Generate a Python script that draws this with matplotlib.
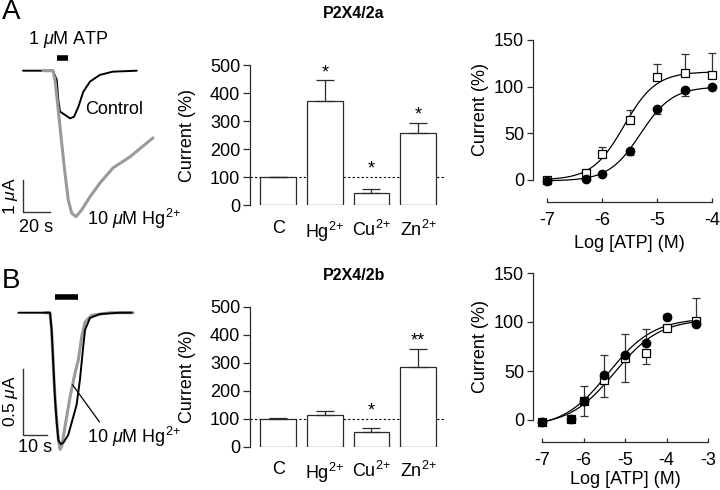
import numpy as np
import matplotlib
matplotlib.use("Agg")
import matplotlib.pyplot as plt

plt.rcParams['font.family'] = ['Liberation Sans', 'DejaVu Sans']
plt.rcParams['mathtext.fontset'] = 'custom'
plt.rcParams['mathtext.rm'] = 'Liberation Sans'
plt.rcParams['mathtext.it'] = 'Liberation Sans:italic'
plt.rcParams['mathtext.bf'] = 'Liberation Sans:bold'

# ---------------- data ----------------
# Panel A traces (time s, current uA)
tA_ctrl = [0, 21.9, 24.7, 25.8, 27.1, 30.7, 34.4, 37.3, 40.5, 44.1, 49.0, 56.3, 65.8, 83.2]
iA_ctrl = [0, 0, -0.29, -0.92, -1.28, -1.38, -1.49, -1.44, -1.13, -0.66, -0.34, -0.13, -0.03, 0.0]
tA_hg = [14.6, 21.9, 23.4, 25.8, 28.3, 30.7, 33.1, 35.6, 38.8, 42.9, 49.0, 56.3, 65.8, 78.3, 95.1]
iA_hg = [0, 0, -0.29, -1.23, -2.26, -3.20, -4.04, -4.45, -4.56, -4.35, -3.94, -3.51, -3.04, -2.69, -2.10]
atpA = [24.7, 33.1]

# Panel B traces
tB_ctrl = [-2.1, 11.4, 12.1, 12.8, 13.5, 14.3, 15.0, 16.0, 17.1, 19.2, 21.4, 22.8, 24.2, 25.6, 26.4, 28.5, 32.8, 41.3, 46.3]
iB_ctrl = [0, 0, -0.13, -0.38, -0.64, -0.84, -0.97, -1.00, -0.99, -0.93, -0.79, -0.70, -0.51, -0.26, -0.13, -0.04, -0.01, 0, 0]
tB_hg = [9.0, 11.4, 12.1, 13.1, 14.0, 15.0, 15.7, 16.4, 17.8, 20.0, 22.1, 23.5, 25.0, 26.4, 29.2, 37.1, 47.0]
iB_hg = [0, 0, -0.13, -0.51, -0.76, -0.97, -1.04, -1.02, -0.87, -0.64, -0.46, -0.36, -0.18, -0.07, -0.02, 0, 0]
atpB = [13.5, 23.5]

# Bar charts
bar_cats = ['C', 'Hg$^{2{+}}$', 'Cu$^{2{+}}$', 'Zn$^{2{+}}$']
barA_vals = [100, 370, 44, 257]
barA_err = [1, 75, 12, 36]
barA_stars = ['', '*', '*', '*']
barB_vals = [100, 114, 51, 286]
barB_err = [3, 12, 16, 64]
barB_stars = ['', '', '*', '**']

# Dose-response A
doseA_x = [-7, -6.3, -6, -5.5, -5, -4.5, -4]
doseA_sq = [0, 7, 28, 64, 110, 115, 112]
doseA_sq_up = [0, 0, 7, 11, 14, 20, 24]
doseA_ci = [-1, 1, 6, 31, 76, 96, 100]
doseA_ci_dn = [0, 0, 0, 4, 5, 6, 0]
# Hill fit params: bottom, top, logEC50, n
fitA_sq = (0, 116, -5.6, 1.5)
fitA_ci = (-1, 100, -5.3, 1.5)

# Dose-response B
doseB_x = [-7, -6.3, -6, -5.5, -5, -4.5, -4, -3.3]
doseB_sq = [-2, 1, 19, 41, 63, 68, 94, 101]
doseB_sq_up = [0, 0, 0, 0, 0, 0, 0, 23]
doseB_sq_dn = [0, 0, 15, 18, 24, 11, 0, 0]
doseB_ci = [-2, 1, 19, 46, 66, 79, 105, 98]
doseB_ci_up = [0, 0, 16, 20, 22, 14, 3, 0]
fitB_sq = (-6, 103, -5.25, 0.8)
fitB_ci = (-8, 104, -5.4, 0.8)

# ---------------- layout helpers ----------------
W, H = 720, 490
fig = plt.figure(figsize=(W / 100, H / 100), dpi=100)

def box(x0, y0, x1, y1):
    return [x0 / W, 1 - y1 / H, (x1 - x0) / W, (y1 - y0) / H]

def ftext(x, y, s, **kw):
    fig.text(x / W, 1 - y / H, s, **kw)

FS = 13
GRAY = '#9a9a9a'

# ---------------- traces ----------------
def trace_axes(px_box, x0px, y0px, pps, ppu):
    ax = fig.add_axes(box(*px_box))
    xa, ya, xb, yb = px_box
    ax.set_xlim((xa - x0px) / pps, (xb - x0px) / pps)
    ax.set_ylim(-(yb - y0px) / ppu, -(ya - y0px) / ppu)
    ax.axis('off')
    return ax

axTA = trace_axes((0, 30, 180, 240), 23, 70.7, 1.367, 32.0)
axTA.plot(tA_ctrl, iA_ctrl, color='black', lw=1.4, solid_capstyle='round')
axTA.plot(tA_hg, iA_hg, color=GRAY, lw=2.2, solid_capstyle='round')
axTA.plot(atpA, [0.39, 0.39], color='black', lw=4, solid_capstyle='butt')
axTA.plot([0, 0, 20], [-3.42, -4.42, -4.42], color='#333333', lw=1.0)

axTB = trace_axes((0, 285, 180, 470), 23.3, 312.7, 2.34, 131.4)
axTB.plot(tB_hg, iB_hg, color=GRAY, lw=2.2, solid_capstyle='round')
axTB.plot(tB_ctrl, iB_ctrl, color='black', lw=1.4, solid_capstyle='round')
axTB.plot(atpB, [0.12, 0.12], color='black', lw=4, solid_capstyle='butt')
axTB.plot([0, 0, 10], [-0.43, -0.93, -0.93], color='#333333', lw=1.0)
axTB.plot([21.1, 32.5], [-0.55, -0.83], color='black', lw=0.9)

ftext(11, 12, 'A', fontsize=20, ha='center', va='center')
ftext(11, 281, 'B', fontsize=20, ha='center', va='center')
ftext(28, 40, '1 $\\mu$M ATP', fontsize=FS, ha='left', va='center')
ftext(85, 109, 'Control', fontsize=FS, ha='left', va='center')
ftext(87, 219, '10 $\\mu$M Hg$^{2{+}}$', fontsize=FS, ha='left', va='center')
ftext(10, 196, '1 $\\mu$A', fontsize=12.5, ha='center', va='center', rotation=90)
ftext(36, 227, '20 s', fontsize=FS, ha='center', va='center')
ftext(87, 437, '10 $\\mu$M Hg$^{2{+}}$', fontsize=FS, ha='left', va='center')
ftext(10, 401, '0.5 $\\mu$A', fontsize=12.5, ha='center', va='center', rotation=90)
ftext(35, 447, '10 s', fontsize=FS, ha='center', va='center')

# ---------------- bar charts ----------------
def bar_panel(py_top, py_bot, vals, errs, stars, title, title_y):
    ax = fig.add_axes(box(250, py_top, 445, py_bot))
    x = np.arange(len(vals))
    ax.bar(x, vals, width=0.77, color='white', edgecolor='#2a2a2a', linewidth=0.9, zorder=2)
    ax.errorbar(x, vals, yerr=[np.zeros(len(errs)), errs], fmt='none', ecolor='#2a2a2a',
                elinewidth=0.9, capsize=6.5, capthick=0.9, zorder=3)
    ax.axhline(100, color='black', lw=0.8, ls=(0, (2, 2)), zorder=1)
    for xi, v, e, s in zip(x, vals, errs, stars):
        if s:
            ax.text(xi, max(v + e, 100) + 28, s, ha='center', va='center', fontsize=FS)
    ax.set_xlim(-0.61, 3.58)
    ax.set_ylim(0, 500)
    ax.set_yticks([0, 100, 200, 300, 400, 500])
    ax.set_xticks(x)
    ax.set_xticklabels(bar_cats)
    for sp in ['top', 'right', 'bottom']:
        ax.spines[sp].set_visible(False)
    ax.spines['left'].set_linewidth(0.9)
    ax.spines['left'].set_color('#2a2a2a')
    ax.tick_params(axis='y', length=5, width=0.9, pad=2, labelsize=FS, color='#2a2a2a')
    ax.tick_params(axis='x', length=0, pad=10.5, labelsize=FS)
    ax.set_ylabel('Current (%)', fontsize=FS)
    ax.yaxis.set_label_coords(-0.323, 0.5)
    ax.yaxis.label.set_va('center')
    ax.patch.set_alpha(0)
    ftext(354, title_y, title, fontsize=11.5, fontweight='bold', ha='center', va='center')
    return ax

bar_panel(65, 205, barA_vals, barA_err, barA_stars, 'P2X4/2a', 13)
bar_panel(306.7, 446.7, barB_vals, barB_err, barB_stars, 'P2X4/2b', 275)

# ---------------- dose-response ----------------
def hill(x, p):
    b, t, ec, n = p
    return b + (t - b) / (1 + 10 ** ((ec - x) * n))

def dose_panel(pbox, xlim, xticks, left_off, ylab_x, xlab_y):
    ax = fig.add_axes(box(*pbox))
    ax.set_xlim(*xlim)
    ax.set_ylim(0, 150)
    ax.set_xticks(xticks)
    ax.set_xticklabels([str(v) for v in xticks])
    ax.set_yticks([0, 50, 100, 150])
    for sp in ['top', 'right']:
        ax.spines[sp].set_visible(False)
    ax.spines['left'].set_position(('outward', left_off))
    ax.spines['bottom'].set_position(('outward', 15.8))
    for sp in ['left', 'bottom']:
        ax.spines[sp].set_linewidth(0.9)
        ax.spines[sp].set_color('#2a2a2a')
    ax.tick_params(axis='y', length=4.3, width=0.9, pad=2, labelsize=FS, color='#2a2a2a')
    ax.tick_params(axis='x', direction='in', length=3, width=0.9, pad=7, labelsize=FS, color='#2a2a2a')
    ax.set_ylabel('Current (%)', fontsize=FS)
    ax.yaxis.set_label_coords(ylab_x, 0.5)
    ax.yaxis.label.set_va('center')
    ax.set_xlabel('Log [ATP] (M)', fontsize=FS)
    ax.xaxis.set_label_coords(0.5, xlab_y)
    ax.xaxis.label.set_va('center')
    ax.patch.set_alpha(0)
    return ax

axDA = dose_panel((547, 40, 712, 180), (-7, -4), [-7, -6, -5, -4], 10.1, -0.406, -0.45)
xx = np.linspace(-7, -4, 200)
axDA.plot(xx, hill(xx, fitA_sq), color='black', lw=0.9, clip_on=False)
axDA.plot(xx, hill(xx, fitA_ci), color='black', lw=0.9, clip_on=False)
axDA.errorbar(doseA_x, doseA_sq, yerr=[np.zeros(len(doseA_sq)), doseA_sq_up], fmt='none',
              ecolor='#333333', elinewidth=0.9, capsize=3.2, capthick=0.9, clip_on=False)
axDA.errorbar(doseA_x, doseA_ci, yerr=[doseA_ci_dn, np.zeros(len(doseA_ci))], fmt='none',
              ecolor='#333333', elinewidth=0.9, capsize=3.2, capthick=0.9, clip_on=False)
axDA.plot(doseA_x, doseA_sq, ls='none', marker='s', ms=5.3, mfc='white', mec='black', mew=0.9, clip_on=False)
axDA.plot(doseA_x, doseA_ci, ls='none', marker='o', ms=6.0, mfc='black', mec='black', clip_on=False)

axDB = dose_panel((542, 273, 708, 420), (-7, -3), [-7, -6, -5, -4, -3], 6.7, -0.373, -0.408)
xx = np.linspace(-7, -3.3, 200)
axDB.plot(xx, hill(xx, fitB_sq), color='black', lw=0.9, clip_on=False)
axDB.plot(xx, hill(xx, fitB_ci), color='black', lw=0.9, clip_on=False)
axDB.errorbar(doseB_x, doseB_sq, yerr=[doseB_sq_dn, doseB_sq_up], fmt='none',
              ecolor='#333333', elinewidth=0.9, capsize=3.2, capthick=0.9, clip_on=False)
axDB.errorbar(doseB_x, doseB_ci, yerr=[np.zeros(len(doseB_ci)), doseB_ci_up], fmt='none',
              ecolor='#333333', elinewidth=0.9, capsize=3.2, capthick=0.9, clip_on=False)
axDB.plot(doseB_x, doseB_sq, ls='none', marker='s', ms=5.3, mfc='white', mec='black', mew=0.9, clip_on=False)
axDB.plot(doseB_x, doseB_ci, ls='none', marker='o', ms=6.0, mfc='black', mec='black', clip_on=False)

fig.savefig('out.png', dpi=100)
